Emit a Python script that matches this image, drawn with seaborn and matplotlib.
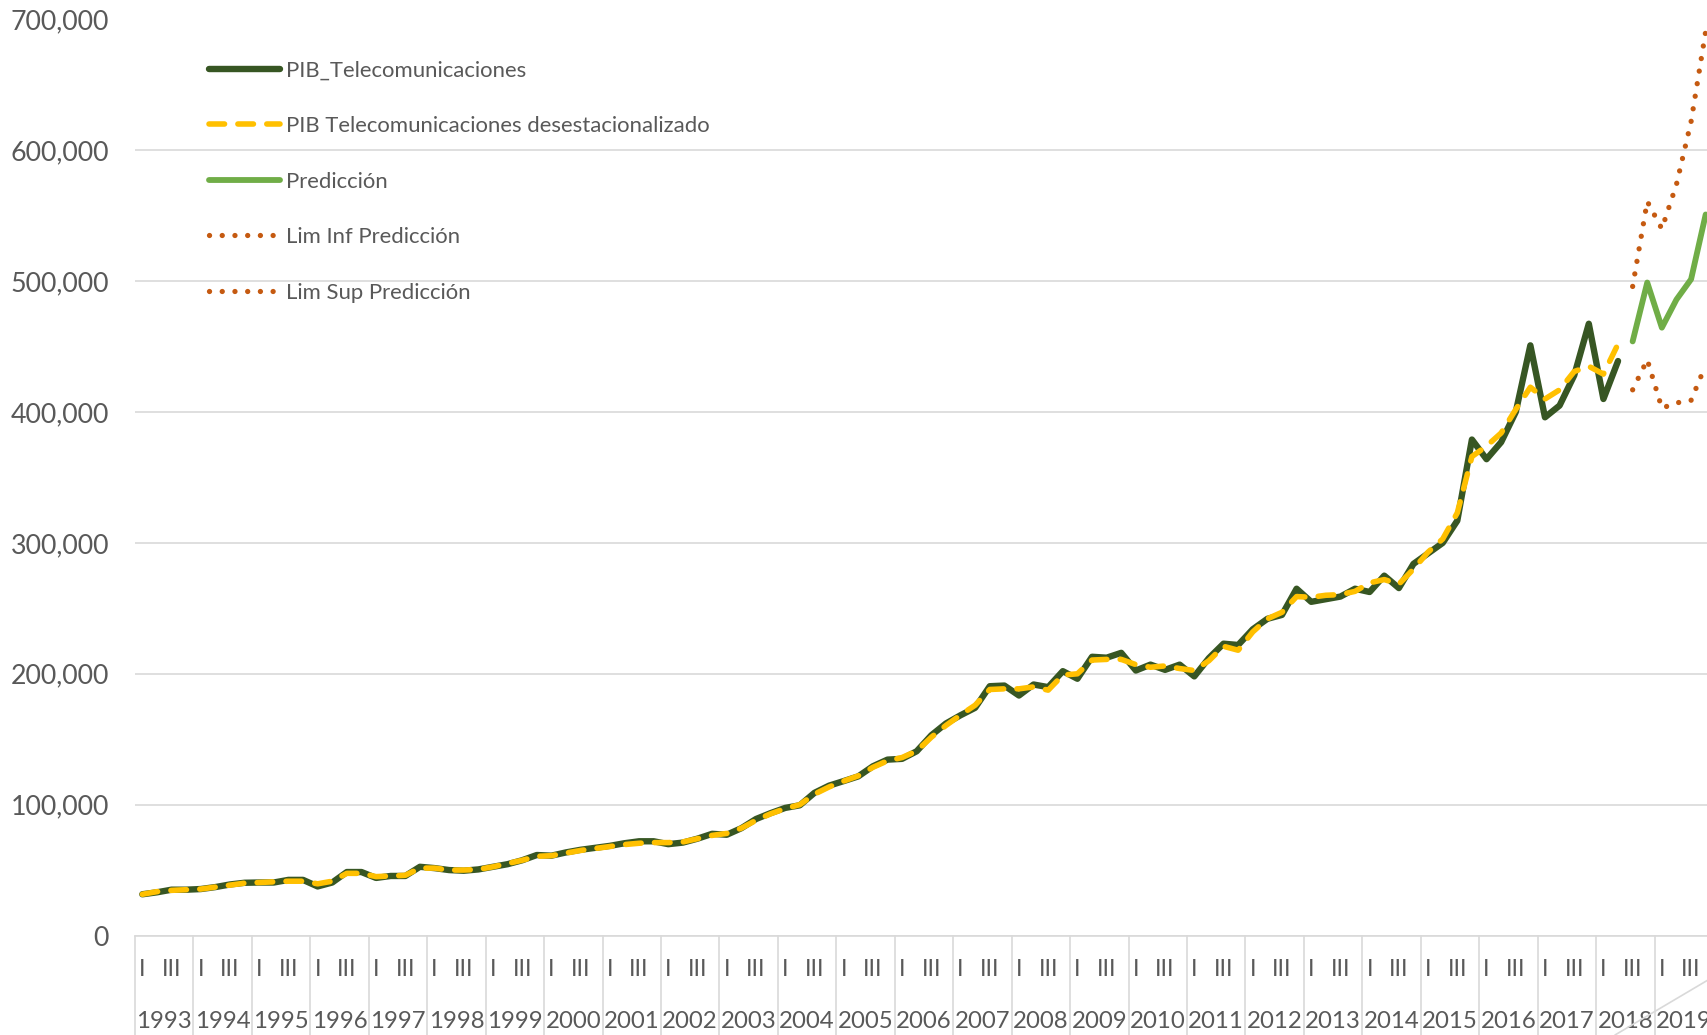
import numpy as np
import pandas as pd
import seaborn as sns
import matplotlib.pyplot as plt
from matplotlib.lines import Line2D
from matplotlib.ticker import FuncFormatter

# Quarterly data 1993-I .. 2018-II, forecast 2018-III .. 2019-IV
years = list(range(1993, 2020))
quarter_labels = ['I', '', 'III', '']

pib = [
    31500, 33000, 35000, 35000,      # 1993
    35500, 37000, 39000, 40300,      # 1994
    40500, 40500, 42500, 42500,      # 1995
    37500, 40500, 48500, 48500,      # 1996
    44000, 45500, 45500, 52500,      # 1997
    51500, 50000, 49500, 50500,      # 1998
    52500, 54500, 57500, 61500,      # 1999
    61000, 63500, 65500, 67000,      # 2000
    68500, 70500, 72000, 72000,      # 2001
    69800, 71000, 74000, 77700,      # 2002
    77000, 82000, 89000, 93500,      # 2003
    97500, 99500, 109000, 114500,    # 2004
    118000, 121600, 129300, 134400,  # 2005
    135000, 140800, 153000, 162000,  # 2006
    168300, 174000, 190500, 191000,  # 2007
    183400, 191800, 189800, 202000,  # 2008
    196200, 213000, 212300, 216000,  # 2009
    202500, 207000, 203000, 207000,  # 2010
    198000, 212000, 223000, 222000,  # 2011
    234000, 242000, 245000, 265000,  # 2012
    255000, 257000, 259000, 265000,  # 2013
    262500, 275000, 265500, 284000,  # 2014
    292000, 300000, 317000, 379000,  # 2015
    364000, 377000, 400000, 451000,  # 2016
    396000, 405000, 428000, 467500,  # 2017
    410000, 439000,                  # 2018
]

pib_desest = [
    31500, 33500, 34500, 35000,
    35500, 37000, 38500, 40000,
    40500, 41000, 41500, 41500,
    39500, 41500, 47500, 47500,
    45000, 45500, 46000, 51500,
    51500, 50000, 50000, 50500,
    52500, 55000, 57500, 60500,
    61000, 63000, 65000, 66500,
    68000, 69500, 70500, 71000,
    71000, 71500, 74000, 76500,
    78000, 82000, 88000, 93000,
    97000, 100000, 108000, 113500,
    118000, 122000, 128500, 133500,
    136000, 141000, 151500, 160500,
    168500, 176000, 188000, 188500,
    188500, 190000, 187500, 199000,
    200000, 210500, 211000, 211000,
    207000, 205000, 206000, 204000,
    202500, 210000, 221000, 218000,
    232000, 242000, 247000, 259000,
    258500, 260000, 260500, 263000,
    269500, 272000, 268500, 280000,
    293000, 303000, 323000, 366000,
    374000, 384000, 402000, 419000,
    410000, 417000, 431000, 435000,
    429000, 452000,
]

prediccion = [454000, 499000, 464500, 486000, 501500, 551000]
lim_inf = [417000, 440000, 403000, 407000, 409000, 436000]
lim_sup = [496000, 561000, 540000, 574000, 622000, 691000]

n_hist = len(pib)
df_hist = pd.DataFrame({'t': np.arange(n_hist), 'PIB': pib, 'Desest': pib_desest})
df_pred = pd.DataFrame({'t': np.arange(n_hist, n_hist + len(prediccion)),
                        'Pred': prediccion, 'Inf': lim_inf, 'Sup': lim_sup})

sns.set_theme(style='white')
plt.rcParams['font.family'] = ['Lato', 'DejaVu Sans']

GRID = '#D9D9D9'
TXT = '#595959'

fig = plt.figure(figsize=(17.08, 10.35), dpi=100)
ax = fig.add_axes([135 / 1708, 99.5 / 1035, 1578 / 1708, 916 / 1035])

sns.lineplot(data=df_hist, x='t', y='PIB', ax=ax, color='#375623', lw=4.6,
             label='PIB_Telecomunicaciones', solid_capstyle='round', solid_joinstyle='round')
sns.lineplot(data=df_hist, x='t', y='Desest', ax=ax, color='#FFC000', lw=4.0,
             linestyle=(0, (2.8, 2.4)), dash_capstyle='round',
             label='PIB Telecomunicaciones desestacionalizado')
sns.lineplot(data=df_pred, x='t', y='Pred', ax=ax, color='#70AD47', lw=4.2,
             label='Predicción', solid_capstyle='round', solid_joinstyle='round')
sns.lineplot(data=df_pred, x='t', y='Inf', ax=ax, color='#C55A11', lw=3.8,
             linestyle=(0, (0.01, 2.4)), dash_capstyle='round', label='Lim Inf Predicción')
sns.lineplot(data=df_pred, x='t', y='Sup', ax=ax, color='#C55A11', lw=3.8,
             linestyle=(0, (0.01, 2.4)), dash_capstyle='round', label='Lim Sup Predicción')

ax.set_xlim(-0.5, 4 * len(years) - 0.5)
ax.set_ylim(0, 700000)
ax.set_yticks(range(0, 700001, 100000))
ax.yaxis.set_major_formatter(FuncFormatter(lambda v, _: f'{int(v):,}'))
ax.tick_params(axis='y', length=0, pad=18.7, labelsize=19.3, labelcolor=TXT)
ax.set_xticks([])
ax.set_xlabel('')
ax.set_ylabel('')
ax.grid(axis='y', color=GRID, lw=1.2)
ax.set_axisbelow(True)
for s in ['top', 'right', 'left']:
    ax.spines[s].set_visible(False)
ax.spines['bottom'].set_color(GRID)
ax.spines['bottom'].set_linewidth(1.2)

# two-level category axis: quarters and years
trans = ax.get_xaxis_transform()
for k, yr in enumerate(years):
    for q, lab in enumerate(quarter_labels):
        if lab:
            ax.text(4 * k + q, -0.0371, lab, transform=trans, ha='center', va='center',
                    fontsize=17, color=TXT, clip_on=False)
    ax.text(4 * k + 1.5, -0.0944, str(yr), transform=trans, ha='center', va='center',
            fontsize=17.3, color=TXT, clip_on=False)
    ax.plot([4 * k - 0.5] * 2, [0, -0.15], transform=trans, color=GRID, lw=1.2, clip_on=False)

ax.legend(loc='upper left', bbox_to_anchor=(209 / 1708, 0.9415), bbox_transform=fig.transFigure,
          frameon=False, fontsize=15.9, handlelength=3.2, handletextpad=0.28,
          labelspacing=1.61, borderpad=0, borderaxespad=0, labelcolor=TXT)

fig.add_artist(Line2D([1615 / 1708, 1.0], [0.0, 55 / 1035], transform=fig.transFigure,
                      color=GRID, lw=1.2))

fig.savefig('out.png', dpi=100)
